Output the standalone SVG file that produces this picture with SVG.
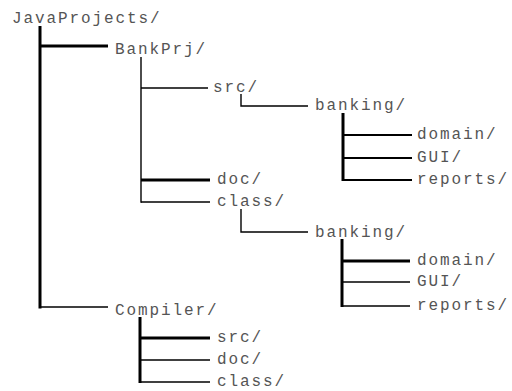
<svg xmlns="http://www.w3.org/2000/svg" width="512" height="391" viewBox="0 0 512 391">
<style>
text{font-family:"Liberation Mono","Courier New",monospace;font-size:16px;letter-spacing:1.9px;fill:#555}
.c{fill:none;stroke:#000;stroke-linecap:butt;stroke-linejoin:miter}
.t{stroke-width:1.4}
.k{stroke-width:3}
.m{stroke-width:2}
</style>
<rect width="512" height="391" fill="#fff"/>
<g id="connectors">
<line class="c k" x1="40" y1="26" x2="40" y2="308.5"/>
<line class="c k" x1="40" y1="46" x2="108" y2="46"/>
<line class="c t" x1="40" y1="307" x2="108" y2="307"/>
<line class="c t" x1="141" y1="57" x2="141" y2="202.7"/>
<line class="c t" x1="141" y1="88" x2="208" y2="88"/>
<line class="c k" x1="141" y1="180" x2="210" y2="180"/>
<line class="c t" x1="141" y1="202" x2="210" y2="202"/>
<polyline class="c t" points="241,94 241,106 308,106"/>
<line class="c k" x1="343" y1="113" x2="343" y2="181"/>
<line class="c m" x1="343" y1="135" x2="412" y2="135"/>
<line class="c m" x1="343" y1="158" x2="412" y2="158"/>
<line class="c m" x1="343" y1="180" x2="412" y2="180"/>
<polyline class="c t" points="241,209 241,232 308,232"/>
<line class="c k" x1="342" y1="239" x2="342" y2="307"/>
<line class="c k" x1="342" y1="261" x2="410" y2="261"/>
<line class="c t" x1="342" y1="282" x2="410" y2="282"/>
<line class="c t" x1="342" y1="306" x2="410" y2="306"/>
<line class="c k" x1="140" y1="317" x2="140" y2="383"/>
<line class="c k" x1="140" y1="338" x2="210" y2="338"/>
<line class="c t" x1="140" y1="360" x2="210" y2="360"/>
<line class="c t" x1="140" y1="382" x2="210" y2="382"/>
</g>
<g id="javaprojects"><text x="12" y="23">JavaProjects/</text></g>
<g id="bankprj"><text x="115" y="54">BankPrj/</text></g>
<g id="bank-src"><text x="213" y="92">src/</text></g>
<g id="src-banking"><text x="315" y="110">banking/</text></g>
<g id="src-domain"><text x="417" y="139">domain/</text></g>
<g id="src-gui"><text x="417" y="162">GUI/</text></g>
<g id="src-reports"><text x="417" y="184">reports/</text></g>
<g id="bank-doc"><text x="217" y="184">doc/</text></g>
<g id="bank-class"><text x="217" y="206">class/</text></g>
<g id="class-banking"><text x="315" y="237">banking/</text></g>
<g id="class-domain"><text x="417" y="265">domain/</text></g>
<g id="class-gui"><text x="417" y="286">GUI/</text></g>
<g id="class-reports"><text x="417" y="310">reports/</text></g>
<g id="compiler"><text x="115" y="315">Compiler/</text></g>
<g id="comp-src"><text x="217" y="342">src/</text></g>
<g id="comp-doc"><text x="217" y="364">doc/</text></g>
<g id="comp-class"><text x="217" y="386">class/</text></g>
</svg>
